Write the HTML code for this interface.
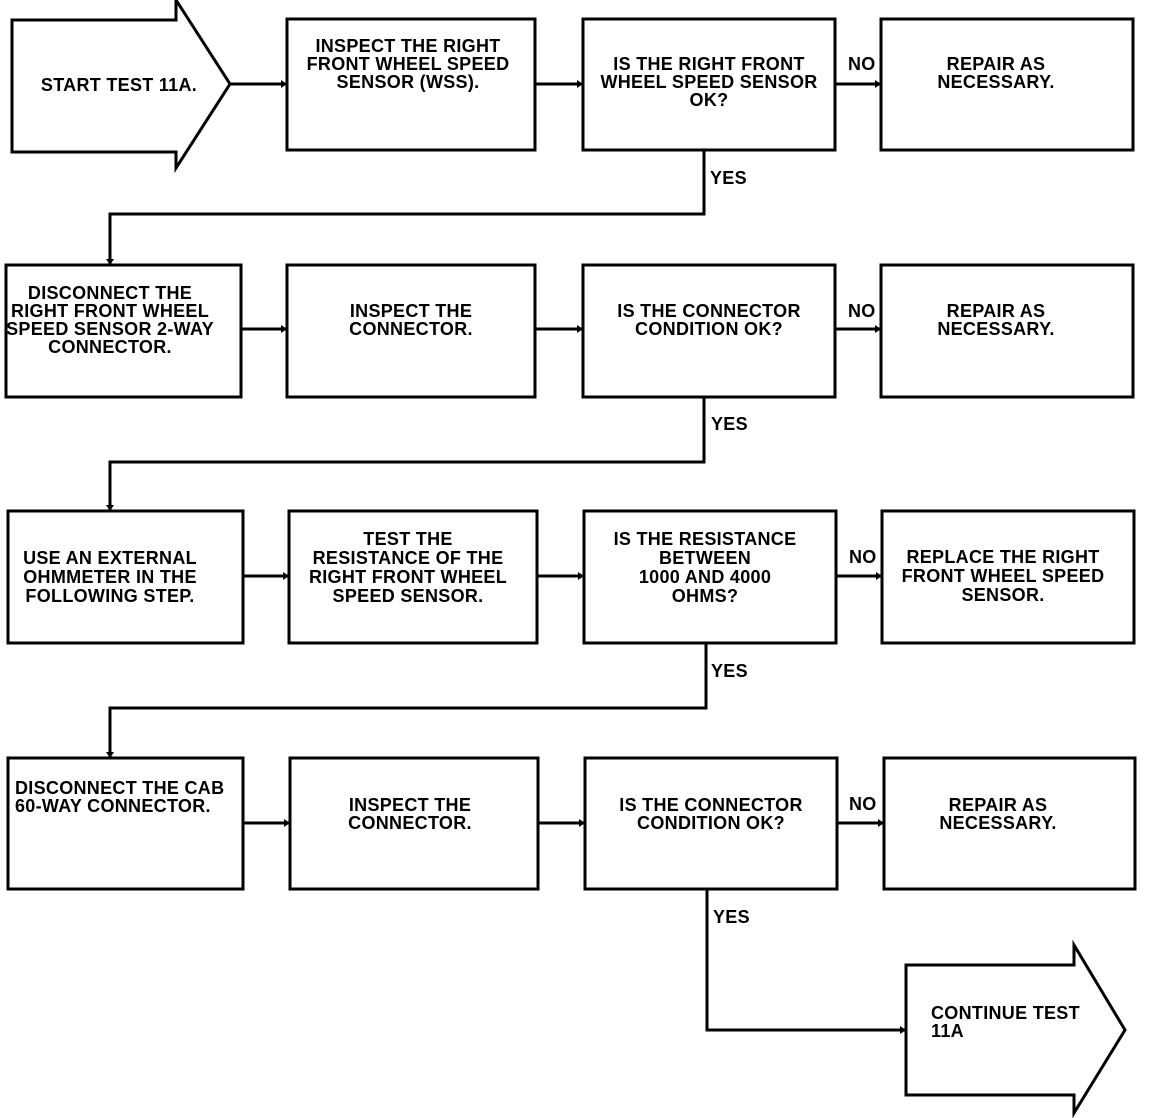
<!DOCTYPE html>
<html><head><meta charset="utf-8"><style>
html,body{margin:0;padding:0;background:#fff;}
svg{display:block;}
text{font-family:"Liberation Sans",sans-serif;font-weight:bold;font-size:18px;fill:#000;letter-spacing:0.3px;}
</style></head><body>
<svg width="1152" height="1118" viewBox="0 0 1152 1118" xmlns="http://www.w3.org/2000/svg">
<g fill="none" stroke="#000" stroke-width="3">
<polygon points="12,20 176,20 176,0 230,84 176,168 176,152 12,152"/>
<rect x="287" y="19" width="248" height="131"/>
<rect x="583" y="19" width="252" height="131"/>
<rect x="881" y="19" width="252" height="131"/>
<rect x="6" y="265" width="235" height="132"/>
<rect x="287" y="265" width="248" height="132"/>
<rect x="583" y="265" width="252" height="132"/>
<rect x="881" y="265" width="252" height="132"/>
<rect x="8" y="511" width="235" height="132"/>
<rect x="289" y="511" width="248" height="132"/>
<rect x="584" y="511" width="252" height="132"/>
<rect x="882" y="511" width="252" height="132"/>
<rect x="8" y="758" width="235" height="131"/>
<rect x="290" y="758" width="248" height="131"/>
<rect x="585" y="758" width="252" height="131"/>
<rect x="884" y="758" width="251" height="131"/>
<polygon points="906,965 1074,965 1074,945 1125,1030 1074,1113 1074,1095 906,1095"/>
<path d="M230 84H287M535 84H583M835 84H881"/>
<path d="M704 150V214H110V265"/>
<path d="M241 329H287M535 329H583M835 329H881"/>
<path d="M704 397V462H110V511"/>
<path d="M243 576H289M537 576H584M836 576H882"/>
<path d="M706 643V708H110V758"/>
<path d="M243 823H290M538 823H585M837 823H884"/>
<path d="M707 889V1030H906"/>
</g>
<g fill="#000">
<path d="M287 84l-6-4v8zM583 84l-6-4v8zM881 84l-6-4v8zM110 265l-4-6h8zM287 329l-6-4v8zM583 329l-6-4v8zM881 329l-6-4v8zM110 511l-4-6h8zM289 576l-6-4v8zM584 576l-6-4v8zM882 576l-6-4v8zM110 758l-4-6h8zM290 823l-6-4v8zM585 823l-6-4v8zM884 823l-6-4v8zM906 1030l-6-4v8z"/>
</g>
<g text-anchor="middle">
<text x="119" y="91">START TEST 11A.</text>
<g transform="translate(408,52)"><text>INSPECT THE RIGHT</text><text y="18">FRONT WHEEL SPEED</text><text y="36">SENSOR (WSS).</text></g>
<g transform="translate(709,70)"><text>IS THE RIGHT FRONT</text><text y="18">WHEEL SPEED SENSOR</text><text y="36">OK?</text></g>
<g transform="translate(996,70)"><text>REPAIR AS</text><text y="18">NECESSARY.</text></g>
<g transform="translate(110,299)"><text>DISCONNECT THE</text><text y="18">RIGHT FRONT WHEEL</text><text y="36">SPEED SENSOR 2-WAY</text><text y="54">CONNECTOR.</text></g>
<g transform="translate(411,317)"><text>INSPECT THE</text><text y="18">CONNECTOR.</text></g>
<g transform="translate(709,317)"><text>IS THE CONNECTOR</text><text y="18">CONDITION OK?</text></g>
<g transform="translate(996,317)"><text>REPAIR AS</text><text y="18">NECESSARY.</text></g>
<g transform="translate(110,564)"><text>USE AN EXTERNAL</text><text y="19">OHMMETER IN THE</text><text y="38">FOLLOWING STEP.</text></g>
<g transform="translate(408,545)"><text>TEST THE</text><text y="19">RESISTANCE OF THE</text><text y="38">RIGHT FRONT WHEEL</text><text y="57">SPEED SENSOR.</text></g>
<g transform="translate(705,545)"><text>IS THE RESISTANCE</text><text y="19">BETWEEN</text><text y="38">1000 AND 4000</text><text y="57">OHMS?</text></g>
<g transform="translate(1003,563)"><text>REPLACE THE RIGHT</text><text y="19">FRONT WHEEL SPEED</text><text y="38">SENSOR.</text></g>
<text text-anchor="start" x="15" y="794">DISCONNECT THE CAB</text><text text-anchor="start" x="15" y="812">60-WAY CONNECTOR.</text>
<g transform="translate(410,811)"><text>INSPECT THE</text><text y="18">CONNECTOR.</text></g>
<g transform="translate(711,811)"><text>IS THE CONNECTOR</text><text y="18">CONDITION OK?</text></g>
<g transform="translate(998,811)"><text>REPAIR AS</text><text y="18">NECESSARY.</text></g>
<text text-anchor="start" x="931" y="1019">CONTINUE TEST</text><text text-anchor="start" x="931" y="1037">11A</text>
</g>
<text x="848" y="70">NO</text><text x="848" y="317">NO</text><text x="849" y="563">NO</text><text x="849" y="810">NO</text>
<text x="710" y="184">YES</text><text x="711" y="430">YES</text><text x="711" y="677">YES</text><text x="713" y="923">YES</text>
</svg>
</body></html>
